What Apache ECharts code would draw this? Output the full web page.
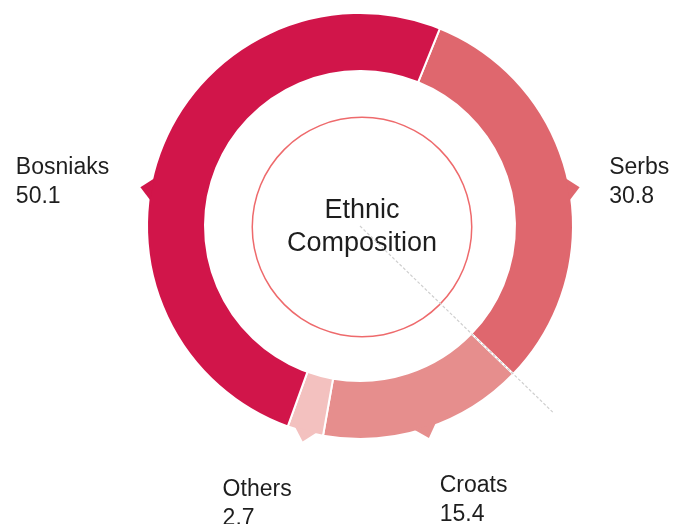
<!DOCTYPE html>
<html>
<head>
<meta charset="utf-8">
<script src="https://cdn.jsdelivr.net/npm/echarts@6/dist/echarts.min.js"></script>
<style>
html,body{margin:0;padding:0;background:#fff;}
#chart{width:682px;height:524px;}
</style>
</head>
<body>
<div id="chart"></div>
<script>
// ---- data ----
const categories = ['Serbs', 'Croats', 'Others', 'Bosniaks'];
const values = [30.8, 15.4, 2.7, 50.1];
const centerTitle = 'Ethnic\nComposition';

// ---- style / layout constants ----
const palette = ['#DF676E', '#E68E8D', '#F3C1BF', '#D1154A'];
const FONT = '"Liberation Sans", Arial, Helvetica, sans-serif';
const CX = 360, CY = 226;
const R_IN = 155, R_OUT = 213;
const START_OFFSET = 22;            // degrees clockwise from 12 o'clock
const POLAR_R = 280;
const LABEL_SIZE = 23;

const total = values.reduce((a, b) => a + b, 0);
let acc = 0;
const mids = [], ends = [];
values.forEach(v => {
  const span = v / total * 360;
  mids.push(START_OFFSET + acc + span / 2);
  acc += span;
  ends.push(START_OFFSET + acc);
});
function clamp(v, lo, hi) { return Math.max(lo, Math.min(hi, v)); }
function anchorAngle(a) {
  a = ((a % 360) + 360) % 360;
  if (a > 45 && a < 135) return clamp(a, 80, 100);
  if (a > 225 && a < 315) return clamp(a, 260, 280);
  return a;
}

const ctx = document.createElement('canvas').getContext('2d');
ctx.font = LABEL_SIZE + 'px ' + FONT;
function tw(s) { return Math.ceil(ctx.measureText(s).width) + 1; }

const arrowData = categories.map((c, i) => {
  const a = anchorAngle(mids[i]);
  return {
    value: [217, a],
    symbolRotate: -a,
    itemStyle: { color: palette[i], opacity: 1 }
  };
});

const labelData = categories.map((c, i) => {
  const a = anchorAngle(mids[i]);
  const side = (a > 45 && a < 135) ? 'right' : (a > 225 && a < 315) ? 'left' : 'bottom';
  const w = Math.max(tw(c), tw(String(values[i])));
  const lbl = {
    show: true,
    formatter: '{t|' + c + '}\n{t|' + values[i] + '}',
    rich: { t: { width: w, align: 'left', fontSize: LABEL_SIZE, lineHeight: 29, color: '#1e1e1e', fontFamily: FONT } },
    distance: 0
  };
  let r;
  if (side === 'bottom') {
    r = 258;
    lbl.position = 'inside';
    lbl.verticalAlign = 'top';
    lbl.align = (Math.sin(a * Math.PI / 180) >= 0) ? 'left' : 'right';
  } else {
    r = 253;
    lbl.position = side;
  }
  return { value: [r, a], label: lbl, itemStyle: { opacity: 1 } };
});

const chart = echarts.init(document.getElementById('chart'), null, { renderer: 'canvas' });
chart.setOption({
  backgroundColor: '#fff',
  animation: false,
  polar: { center: [CX, CY], radius: POLAR_R },
  angleAxis: { type: 'value', min: 0, max: 360, startAngle: 90, clockwise: true, show: false },
  radiusAxis: { type: 'value', min: 0, max: POLAR_R, show: false },
  series: [
    {
      type: 'pie',
      silent: true,
      center: [CX + 2, CY + 1],
      radius: [109, 110.5],
      itemStyle: { color: '#EE6A6C', borderWidth: 0 },
      label: {
        show: true, position: 'center', formatter: centerTitle,
        fontSize: 27, lineHeight: 33, color: '#1e1e1e', fontFamily: FONT
      },
      labelLine: { show: false },
      data: [{ value: 1, name: 'title' }],
      z: 1
    },
    {
      type: 'pie',
      silent: true,
      center: [CX, CY],
      radius: [R_IN, R_OUT],
      startAngle: 90 - START_OFFSET,
      clockwise: true,
      label: { show: false },
      labelLine: { show: false },
      itemStyle: { borderColor: '#fff', borderWidth: 2 },
      data: categories.map((c, i) => ({ name: c, value: values[i], itemStyle: { color: palette[i] } })),
      z: 2
    },
    {
      type: 'line',
      coordinateSystem: 'polar',
      silent: true,
      symbol: 'none',
      lineStyle: { color: '#cfcfcf', width: 1.2, type: [3, 2] },
      data: [[0, ends[0]], [269, ends[0]]],
      z: 5
    },
    {
      type: 'scatter',
      coordinateSystem: 'polar',
      silent: true,
      symbol: 'triangle',
      symbolSize: [22, 12],
      itemStyle: { opacity: 1 },
      data: arrowData,
      z: 3
    },
    {
      type: 'scatter',
      coordinateSystem: 'polar',
      silent: true,
      symbolSize: 0,
      itemStyle: { opacity: 1 },
      data: labelData,
      z: 6
    }
  ]
});
</script>
</body>
</html>
